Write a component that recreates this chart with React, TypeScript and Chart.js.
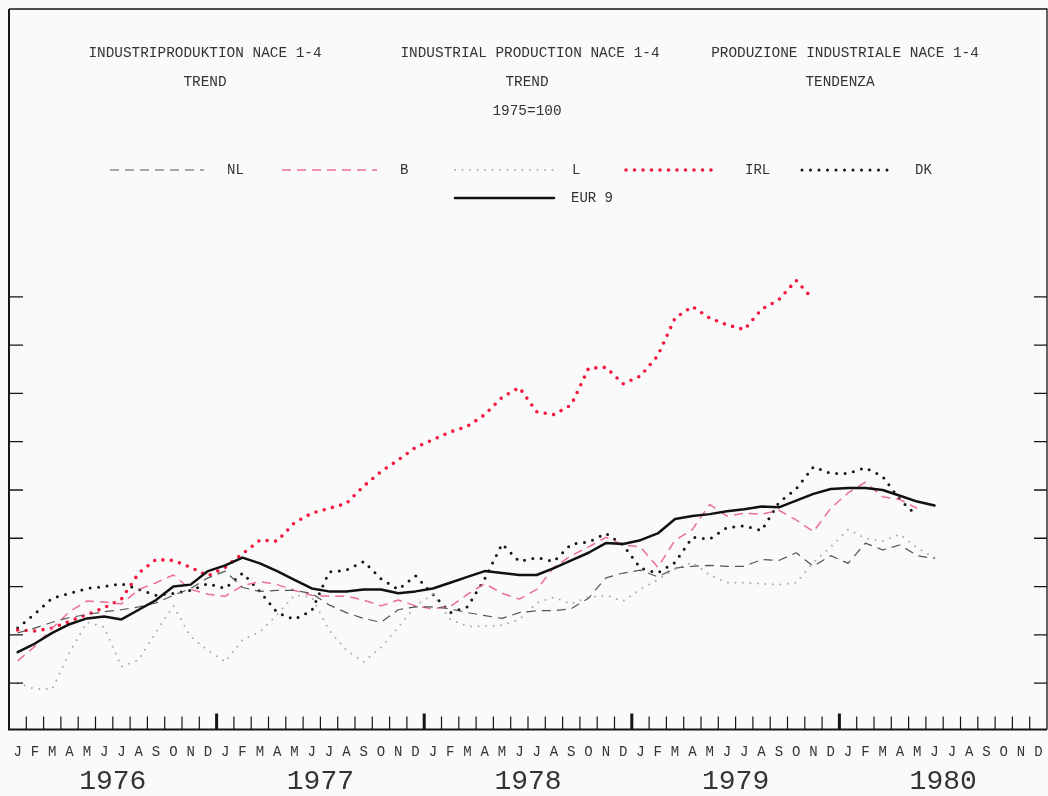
import React, { useEffect, useRef } from 'react';
import { Chart, registerables } from 'chart.js';

Chart.register(...registerables);

const MONTHS = ['J', 'F', 'M', 'A', 'M', 'J', 'J', 'A', 'S', 'O', 'N', 'D'];
const YEARS = ['1976', '1977', '1978', '1979', '1980'];
const MONTH_LABELS = YEARS.flatMap(() => MONTHS);
const Y_TICKS = [95, 100, 105, 110, 115, 120, 125, 130, 135];

const TITLE_LEFT = ['INDUSTRIPRODUKTION NACE 1-4', 'TREND'];
const TITLE_MID = ['INDUSTRIAL PRODUCTION NACE 1-4', 'TREND', '1975=100'];
const TITLE_RIGHT = ['PRODUZIONE INDUSTRIALE NACE 1-4', 'TENDENZA'];

const NL = [
  100.2, 100.7, 101.3, 101.8, 102.1, 102.4, 102.6, 102.9, 103.3, 104.1, 104.8, 105.9,
  106.6, 104.9, 104.5, 104.6, 104.6, 104.3, 103.1, 102.3, 101.7, 101.3, 102.6, 102.9,
  102.9, 102.7, 102.3, 102.0, 101.7, 102.3, 102.5, 102.5, 102.7, 103.8, 105.9, 106.4,
  106.7, 106.0, 106.9, 107.1, 107.2, 107.1, 107.1, 107.8, 107.7, 108.5, 107.1, 108.2,
  107.4, 109.5, 108.8, 109.3, 108.2, 107.9,
];
const B = [
  97.3, 98.8, 100.7, 102.4, 103.5, 103.4, 103.2, 104.7, 105.4, 106.2, 104.7, 104.2,
  104.0, 105.1, 105.5, 105.2, 104.6, 104.1, 104.0, 104.0, 103.6, 103.0, 103.6, 103.0,
  102.7, 102.9, 104.2, 105.3, 104.3, 103.7, 104.7, 107.0, 108.2, 109.1, 110.1, 109.3,
  109.1, 107.0, 109.8, 110.9, 113.5, 112.3, 112.6, 112.5, 112.9, 111.9, 110.7, 113.1,
  114.7, 115.8, 114.3, 114.0, 113.1,
];
const L = [
  95.0, 94.4, 94.4, 98.2, 101.3, 100.8, 96.7, 97.4, 100.3, 103.0, 99.8, 98.4,
  97.2, 99.5, 100.3, 102.1, 104.1, 103.9, 100.5, 98.4, 97.2, 98.7, 100.8, 103.0,
  104.2, 101.6, 100.9, 100.9, 101.0, 101.6, 103.3, 103.9, 103.2, 103.9, 104.1, 103.5,
  104.7, 105.7, 106.8, 107.5, 106.2, 105.4, 105.4, 105.3, 105.2, 105.4, 107.5, 109.1,
  110.9, 110.0, 109.7, 110.4, 109.0, 108.0,
];
const IRL = [
  100.5, 100.4, 100.7, 101.4, 102.1, 102.8, 103.7, 106.4, 107.8, 107.7, 107.0, 106.1,
  107.0, 108.4, 109.8, 109.7, 111.6, 112.6, 113.1, 113.6, 115.4, 116.9, 118.1, 119.4,
  120.2, 121.0, 121.6, 122.8, 124.6, 125.6, 123.1, 122.8, 123.8, 127.6, 127.7, 126.0,
  126.8, 128.9, 132.8, 134.0, 132.8, 132.1, 131.6, 133.7, 134.7, 136.7, 134.7,
];
const DK = [
  100.7, 102.2, 103.8, 104.3, 104.8, 105.0, 105.3, 104.7, 104.1, 104.3, 104.6, 105.3,
  104.8, 106.4, 104.5, 102.3, 101.6, 102.5, 106.5, 106.7, 107.6, 105.8, 104.7, 106.1,
  104.2, 102.3, 102.9, 105.8, 109.4, 107.6, 108.0, 107.6, 109.4, 109.6, 110.5, 109.3,
  106.9, 106.4, 107.5, 110.1, 109.9, 111.1, 111.3, 110.8, 113.7, 115.1, 117.4, 116.7,
  116.7, 117.3, 116.4, 114.0, 112.3,
];
const EUR9 = [
  98.2, 99.1, 100.2, 101.1, 101.7, 101.9, 101.6, 102.6, 103.6, 105.0, 105.2, 106.6,
  107.2, 108.0, 107.4, 106.6, 105.7, 104.8, 104.5, 104.5, 104.7, 104.7, 104.3, 104.5,
  104.8, 105.4, 106.0, 106.6, 106.4, 106.2, 106.2, 106.9, 107.7, 108.5, 109.5, 109.4,
  109.8, 110.5, 112.0, 112.3, 112.5, 112.8, 113.0, 113.3, 113.2, 113.9, 114.6, 115.1,
  115.2, 115.2, 115.0, 114.4, 113.8, 113.4,
];

const FONT = '"Liberation Mono", "DejaVu Sans Mono", monospace';

// legend layout: [dataset index, sample x0, sample x1, label x, row y]
const LEGEND_LAYOUT: [number, number, number, number, number][] = [
  [0, 110, 204, 227, 170],
  [1, 282, 377, 400, 170],
  [2, 455, 553, 572, 170],
  [3, 626, 719, 745, 170],
  [4, 802, 891, 915, 170],
  [5, 455, 554, 571, 198],
];

const decorPlugin = {
  id: 'decor',
  beforeDraw(chart: any) {
    const { ctx, width, height } = chart;
    ctx.save();
    ctx.fillStyle = '#fafafa';
    ctx.fillRect(0, 0, width, height);
    ctx.restore();
  },
  afterDraw(chart: any) {
    const { ctx, chartArea: a, scales } = chart;
    const x = scales.x;
    const y = scales.y;
    ctx.save();
    ctx.strokeStyle = '#151515';
    ctx.lineCap = 'butt';
    ctx.setLineDash([]);
    // frame
    ctx.lineWidth = 2;
    ctx.beginPath();
    ctx.moveTo(a.left, a.top);
    ctx.lineTo(a.left, a.bottom);
    ctx.lineTo(a.right, a.bottom);
    ctx.stroke();
    ctx.lineWidth = 1.3;
    ctx.beginPath();
    ctx.moveTo(a.left, a.top);
    ctx.lineTo(a.right, a.top);
    ctx.lineTo(a.right, a.bottom);
    ctx.stroke();

    // month ticks (inward)
    const n = MONTH_LABELS.length;
    const step = (x.getPixelForValue(n - 1) - x.getPixelForValue(0)) / (n - 1);
    for (let i = 1; i < n; i++) {
      const px = x.getPixelForValue(i) - step / 2;
      const big = i % 12 === 0;
      ctx.lineWidth = big ? 3 : 1.2;
      ctx.beginPath();
      ctx.moveTo(px, a.bottom);
      ctx.lineTo(px, a.bottom - (big ? 16 : 13));
      ctx.stroke();
    }
    // value ticks on both sides
    ctx.lineWidth = 1.3;
    Y_TICKS.forEach((v) => {
      const py = y.getPixelForValue(v);
      ctx.beginPath();
      ctx.moveTo(a.left, py);
      ctx.lineTo(a.left + 14, py);
      ctx.moveTo(a.right, py);
      ctx.lineTo(a.right - 13, py);
      ctx.stroke();
    });

    // year labels
    ctx.fillStyle = '#333';
    ctx.textAlign = 'center';
    ctx.textBaseline = 'middle';
    ctx.font = `28px ${FONT}`;
    YEARS.forEach((yr, k) => {
      const px = x.getPixelForValue(k * 12 + 6) - step / 2;
      ctx.fillText(yr, px, 782);
    });

    // titles
    ctx.fillStyle = '#333';
    ctx.font = `14.4px ${FONT}`;
    const rows = [53, 82, 111];
    TITLE_LEFT.forEach((t, r) => ctx.fillText(t, 205, rows[r]));
    TITLE_MID.forEach((t, r) => ctx.fillText(t, r === 0 ? 530 : 527, rows[r]));
    TITLE_RIGHT.forEach((t, r) => ctx.fillText(t, r === 0 ? 845 : 840, rows[r]));

    // legend
    ctx.textAlign = 'left';
    ctx.font = `14px ${FONT}`;
    LEGEND_LAYOUT.forEach(([di, x0, x1, lx, ly]) => {
      const ds = chart.data.datasets[di];
      ctx.save();
      ctx.strokeStyle = ds.borderColor;
      ctx.lineWidth = ds.borderWidth;
      ctx.lineCap = ds.borderCapStyle || 'butt';
      ctx.setLineDash(ds.borderDash || []);
      ctx.beginPath();
      ctx.moveTo(x0, ly);
      ctx.lineTo(x1, ly);
      ctx.stroke();
      ctx.restore();
      ctx.fillStyle = '#333';
      ctx.fillText(ds.label, lx, ly);
    });
    ctx.restore();
  },
};

export default function App() {
  const ref = useRef<HTMLCanvasElement | null>(null);

  useEffect(() => {
    if (!ref.current) return;
    const chart = new Chart(ref.current, {
      type: 'line',
      data: {
        labels: MONTH_LABELS,
        datasets: [
          { label: 'NL', data: NL, borderColor: '#555555', borderWidth: 1.2, borderDash: [9, 6], borderCapStyle: 'butt', order: 1 },
          { label: 'B', data: B, borderColor: '#ec6f95', borderWidth: 1.5, borderDash: [9, 6], borderCapStyle: 'butt', order: 1 },
          { label: 'L', data: L, borderColor: '#ababab', borderWidth: 2, borderDash: [0, 7.5], borderCapStyle: 'round', order: 1 },
          { label: 'IRL', data: IRL, borderColor: '#f5163f', borderWidth: 3.6, borderDash: [0, 8.5], borderCapStyle: 'round', order: 1 },
          { label: 'DK', data: DK, borderColor: '#141414', borderWidth: 3, borderDash: [0, 8.5], borderCapStyle: 'round', order: 1 },
          { label: 'EUR 9', data: EUR9, borderColor: '#111111', borderWidth: 2.5, borderDash: [], borderCapStyle: 'round', order: 0 },
        ] as any,
      },
      options: {
        responsive: false,
        devicePixelRatio: 1,
        animation: false,
        layout: { padding: { left: 9, right: 1, top: 9, bottom: 0 } },
        elements: {
          point: { radius: 0, hoverRadius: 0 },
          line: { tension: 0, fill: false, borderJoinStyle: 'round' },
        },
        plugins: {
          legend: { display: false },
          tooltip: { enabled: false },
          title: { display: false },
        },
        scales: {
          x: {
            type: 'category',
            offset: true,
            grid: { display: false, drawTicks: false },
            border: { display: false },
            ticks: {
              autoSkip: false,
              maxRotation: 0,
              minRotation: 0,
              padding: 0,
              color: '#333',
              font: { family: FONT, size: 14, lineHeight: 3.2 },
            },
            afterFit: (scale: any) => {
              scale.height = 66.5;
            },
          },
          y: {
            display: false,
            min: 90.2,
            max: 164.8,
          },
        },
      },
      plugins: [decorPlugin],
    });
    return () => chart.destroy();
  }, []);

  return (
    <div style={{ position: 'absolute', left: 0, top: 0, width: 1048, height: 796 }}>
      <canvas ref={ref} width={1048} height={796} style={{ display: 'block' }} />
    </div>
  );
}
